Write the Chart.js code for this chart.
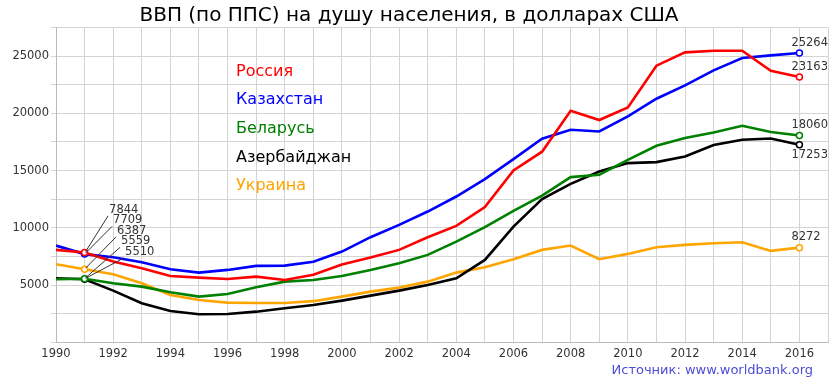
<!DOCTYPE html>
<html>
<head>
<meta charset="utf-8">
<script src="https://cdn.jsdelivr.net/npm/chart.js@4.4.1/dist/chart.umd.min.js"></script>
<style>
  html, body { margin: 0; padding: 0; background: #fff; }
  #wrap { width: 840px; height: 379px; }
</style>
</head>
<body>
<div id="wrap"><canvas id="c" width="840" height="379"></canvas></div>
<script>
const years = [1990,1991,1992,1993,1994,1995,1996,1997,1998,1999,2000,2001,2002,2003,2004,2005,2006,2007,2008,2009,2010,2011,2012,2013,2014,2015,2016];
const russia     = [8076,7844,7053,6477,5803,5657,5541,5745,5454,5900,6800,7403,8076,9183,10173,11808,15007,16650,20224,19411,20513,24157,25320,25468,25468,23720,23163];
const kazakhstan = [8452,7709,7437,7000,6389,6092,6328,6677,6704,7040,7928,9183,10261,11424,12736,14254,16003,17777,18564,18418,19729,21273,22436,23750,24829,25060,25264];
const belarus    = [5515,5559,5165,4868,4379,3994,4230,4816,5305,5450,5803,6328,6913,7639,8801,10060,11484,12810,14429,14631,15942,17165,17836,18330,18913,18363,18060];
const azerbaijan = [5602,5510,4519,3417,2744,2456,2482,2683,2980,3269,3645,4082,4519,5017,5602,7202,10113,12520,13844,14921,15654,15741,16231,17226,17690,17806,17253];
const ukraine    = [6826,6387,5952,5165,4143,3706,3470,3443,3443,3600,3994,4431,4781,5305,6092,6564,7263,8076,8452,7263,7726,8310,8513,8658,8746,7988,8272];
const seriesNames = ["Россия","Казахстан","Беларусь","Азербайджан","Украина"];
const seriesColors = ["#ff0000","#0000ff","#008000","#000000","#ffa500"];
const seriesValues = [russia, kazakhstan, belarus, azerbaijan, ukraine];
const titleText = "ВВП (по ППС) на душу населения, в долларах США";
const sourceText = "Источник: www.worldbank.org";
// label placement at end of series: -1 above, +1 below
const endLabelSide = [-1,-1,-1,1,-1];
// order of stacked labels at 1991
const startLabelOrder = [0,1,4,2,3];

const FONT = "'DejaVu Sans', 'Liberation Sans', sans-serif";
const lastIdx = years.length - 1;
const markIdx = [1, lastIdx];

const datasets = seriesValues.map((vals, k) => ({
  label: seriesNames[k],
  data: years.map((yr, i) => ({x: yr, y: vals[i]})),
  borderColor: seriesColors[k],
  backgroundColor: seriesColors[k],
  borderWidth: 2.6,
  tension: 0,
  fill: false,
  pointRadius: ctx => markIdx.includes(ctx.dataIndex) ? 3 : 0,
  pointHoverRadius: 0,
  pointBackgroundColor: "#ffffff",
  pointBorderColor: seriesColors[k],
  pointBorderWidth: 1.5
}));

const overlay = {
  id: 'overlay',
  afterDatasetsDraw(chart) {
    const ctx = chart.ctx;
    const xs = chart.scales.x, ys = chart.scales.y;
    ctx.save();
    // title
    ctx.fillStyle = "#000";
    ctx.font = "20px " + FONT;
    ctx.textAlign = "center";
    ctx.textBaseline = "middle";
    ctx.fillText(titleText, 409, 16);
    // in-plot legend
    ctx.font = "16px " + FONT;
    ctx.textAlign = "left";
    seriesNames.forEach((n, k) => {
      ctx.fillStyle = seriesColors[k];
      ctx.fillText(n, 236, 71.5 + k * 28.7);
    });
    // source
    ctx.font = "13px " + FONT;
    ctx.textAlign = "right";
    ctx.fillStyle = "#4d4dd6";
    ctx.fillText(sourceText, 813, 371);
    // start labels (1991)
    ctx.font = "11.5px " + FONT;
    ctx.textAlign = "left";
    ctx.fillStyle = "#333";
    ctx.strokeStyle = "#333";
    ctx.lineWidth = 1;
    const px = xs.getPixelForValue(years[1]);
    const topY = ys.getPixelForValue(seriesValues[0][1]);
    startLabelOrder.forEach((k, j) => {
      const v = seriesValues[k][1];
      const py = ys.getPixelForValue(v);
      const lx = px + 24.5 + j * 4;
      const ly = topY - 42.7 + j * 10.5;
      ctx.beginPath();
      ctx.moveTo(px + 1, py - 1);
      ctx.lineTo(lx - 1, ly + 6);
      ctx.stroke();
      ctx.fillText(String(v), lx, ly);
    });
    // end labels (2016)
    const ex = xs.getPixelForValue(years[lastIdx]);
    seriesValues.forEach((vals, k) => {
      const v = vals[lastIdx];
      const py = ys.getPixelForValue(v);
      ctx.fillText(String(v), ex - 8, py + endLabelSide[k] * 10.3);
    });
    ctx.restore();
  }
};

new Chart(document.getElementById('c'), {
  type: 'line',
  data: { datasets },
  options: {
    responsive: false,
    devicePixelRatio: 1,
    animation: false,
    events: [],
    layout: { padding: { top: 27.4, right: 12, left: 0, bottom: 0 } },
    plugins: { legend: { display: false }, title: { display: false }, tooltip: { enabled: false } },
    scales: {
      x: {
        type: 'linear',
        min: 1990, max: 2017,
        afterFit: s => { s.height = 36.6; },
        grid: { color: "#d4d4d4", lineWidth: 1, tickLength: 0, drawTicks: false },
        border: { color: "#bbbbbb" },
        ticks: {
          stepSize: 1, autoSkip: false, maxRotation: 0, padding: 5,
          color: "#333", font: { family: FONT, size: 11.5 },
          callback: v => (v % 2 === 0 && v <= 2016) ? String(v) : ''
        }
      },
      y: {
        type: 'linear',
        min: 0, max: 27500,
        afterFit: s => { s.width = 56; },
        grid: { color: "#d4d4d4", lineWidth: 1, tickLength: 5 },
        border: { color: "#bbbbbb" },
        ticks: {
          stepSize: 2500, autoSkip: false, padding: 2,
          color: "#333", font: { family: FONT, size: 11.5 },
          callback: v => (v % 5000 === 0 && v > 0) ? String(v) : ''
        }
      }
    }
  },
  plugins: [overlay]
});
</script>
</body>
</html>
